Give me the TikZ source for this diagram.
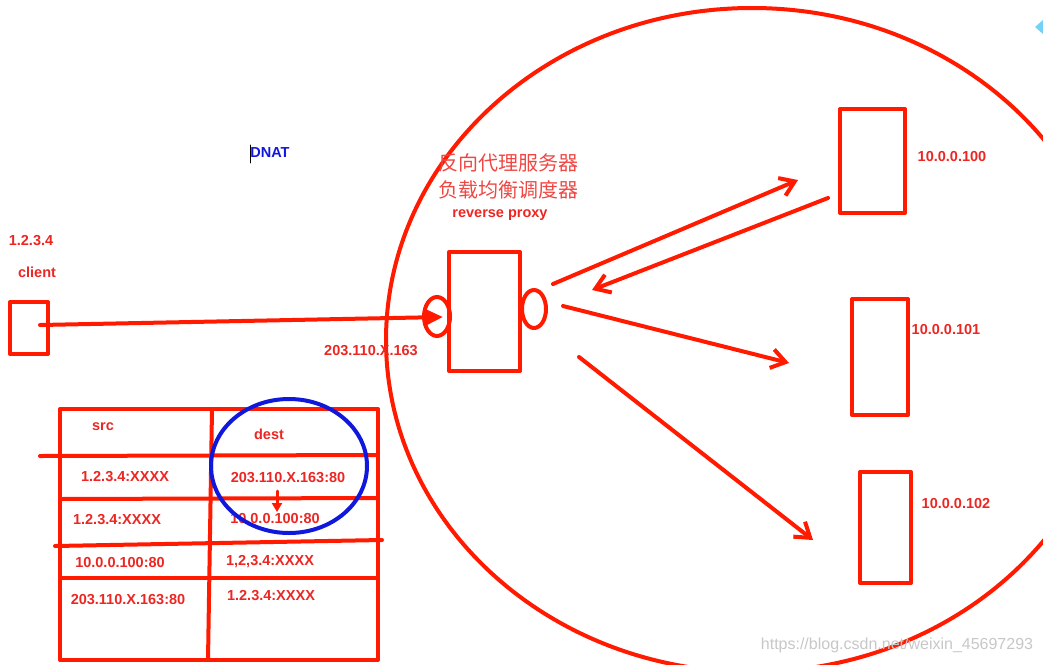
\documentclass[tikz,border=0pt]{standalone}
\usepackage{fontspec}
\setmainfont{Liberation Sans}
\newfontfamily\cjk{Noto Sans CJK SC}
\usetikzlibrary{arrows.meta,shapes.geometric}
\definecolor{penred}{RGB}{255,26,0}
\definecolor{txtred}{RGB}{236,38,34}
\definecolor{natblue}{RGB}{16,24,220}

\begin{document}
\begin{tikzpicture}[x=1pt,y=-1pt,line cap=round,line join=round,
  pen/.style={draw=penred,line width=4pt},
  box/.style={pen,rectangle,inner sep=0pt},
  port/.style={pen,ellipse,inner sep=0pt},
  lbl/.style={text=txtred,font=\bfseries\fontsize{14.5}{17}\selectfont,inner sep=0pt},
  zh/.style={text=txtred!85,font=\cjk\fontsize{20}{24}\selectfont,inner sep=0pt},
  flow/.style={pen,-{Straight Barb[length=14pt,width=19pt]}}]
  \useasboundingbox (0,0) rectangle (1043,664);

  % load balancer zone
  \draw[pen] (752,340) ellipse [x radius=366pt,y radius=332pt];

  % client
  \node[box,minimum width=38pt,minimum height=52pt] (cli) at (29,328) {};
  \node[lbl] (cliip) at (31,241) {1.2.3.4};
  \node[lbl] (clitxt) at (37,272) {client};
  \node[lbl,text=natblue] (dnat) at (270,153) {DNAT};
  \draw[black,line width=0.8pt] (250,145) -- (250,163);

  % reverse proxy
  \node[box,minimum width=71pt,minimum height=119pt] (rp) at (484.5,311.5) {};
  \node[port,minimum width=26pt,minimum height=39pt] (portin) at (437,316.5) {};
  \node[port,minimum width=24pt,minimum height=38pt] (portout) at (534,309) {};
  \node[zh] (zh1) at (508,163) {反向代理服务器};
  \node[zh] (zh2) at (508,190) {负载均衡调度器};
  \node[lbl] (rptxt) at (500,215) {reverse proxy};
  \node[lbl] (vip) at (371,351) {203.110.X.163};

  % backend servers
  \foreach \n/\x/\y/\w/\h/\ip/\lx/\ly in {1/872.5/161/65/104/100/952/157,
      2/880/357/56/116/101/946/330, 3/885.5/527.5/51/111/102/956/503} {
    \node[box,minimum width=\w pt,minimum height=\h pt] (s\n) at (\x,\y) {};
    \node[lbl] (ip\n) at (\lx,\ly) {10.0.0.\ip};
  }

  % packets
  \coordinate (cliout) at (40,325);
  \coordinate (intip) at (443,317);
  \draw[pen,-{Triangle[length=18pt,width=16pt]}] (cliout) -- (intip);
  \coordinate (o1) at (553,284); \coordinate (t1) at (798,180);
  \coordinate (b1) at (828,198); \coordinate (t0) at (592,290);
  \coordinate (o2) at (563,306); \coordinate (t2) at (789,363);
  \coordinate (o3) at (579,357); \coordinate (t3) at (813,540);
  \draw[flow] (o1) -- (t1);
  \draw[flow] (b1) -- (t0);
  \draw[flow] (o2) -- (t2);
  \draw[flow] (o3) -- (t3);

  % address table
  \draw[pen] (60,409) rectangle (378,660);
  \draw[pen] (212,409) -- (208,660);
  \draw[pen] (40,456) -- (378,455);
  \draw[pen] (60,499) -- (378,498);
  \draw[pen] (55,546) -- (382,540);
  \draw[pen] (60,578) -- (378,578);
  \node[lbl] (hsrc) at (103,427) {src};
  \node[lbl] (hdest) at (269,434) {dest};
  \node[lbl] (r1s) at (125,477) {1.2.3.4:XXXX};
  \node[lbl] (r1d) at (288,478) {203.110.X.163:80};
  \node[lbl] (r2s) at (117,520) {1.2.3.4:XXXX};
  \node[lbl] (r2d) at (275,518) {10.0.0.100:80};
  \node[lbl] (r3s) at (120,562) {10.0.0.100:80};
  \node[lbl] (r3d) at (270,562) {1,2,3.4:XXXX};
  \node[lbl] (r4s) at (128,600) {203.110.X.163:80};
  \node[lbl] (r4d) at (271,596) {1.2.3.4:XXXX};
  \coordinate (na) at (277,491);
  \coordinate (nb) at (277,512);
  \draw[pen,line width=3pt,-{Triangle[length=9pt,width=10pt]}] (na) -- (nb);
  \draw[natblue,line width=4pt] (289,466) ellipse [x radius=78pt,y radius=67pt];

  \fill[cyan!55] (1043,20) -- (1035,27) -- (1043,34) -- cycle;
  \node[text=black!22,font=\fontsize{16}{18}\selectfont,inner sep=0pt] (mark) at (897,645)
    {https://blog.csdn.net/weixin\_45697293};
\end{tikzpicture}
\end{document}
